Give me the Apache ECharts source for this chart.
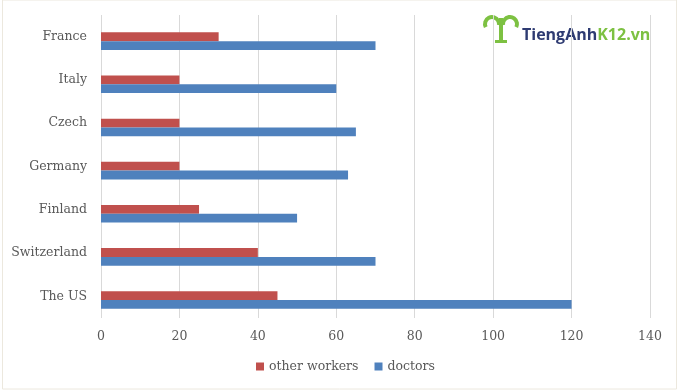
<!DOCTYPE html>
<html>
<head>
<meta charset="utf-8">
<script src="https://cdn.jsdelivr.net/npm/echarts@6/dist/echarts.min.js"></script>
<style>
html,body{margin:0;padding:0;background:#fff;}
#c{width:679px;height:391px;}
</style>
</head>
<body>
<div id="c"></div>
<script>
var categories = ['France', 'Italy', 'Czech', 'Germany', 'Finland', 'Switzerland', 'The US'];
var otherWorkers = [30, 20, 20, 20, 25, 40, 45];
var doctors = [70, 60, 65, 63, 50, 70, 120];
var xTicks = [0, 20, 40, 60, 80, 100, 120, 140];

var FONT = 'DejaVu Serif';
var TXT = '#595959';
var GREEN = '#7DC142';
var FS = 12.5;
var chart = echarts.init(document.getElementById('c'), null, {renderer: 'canvas'});
chart.setOption({
  animation: false,
  backgroundColor: '#fff',
  grid: [
    {left: 101, width: 549, top: 19.6, height: 302, containLabel: false},
    {left: 101, width: 549, top: 15, height: 303, containLabel: false}
  ],
  xAxis: [
    {gridIndex: 0, type: 'value', min: 0, max: 140, interval: 20, show: false},
    {gridIndex: 1, type: 'value', min: xTicks[0], max: xTicks[xTicks.length - 1], interval: 20,
      axisLine: {show: false}, axisTick: {show: false},
      splitLine: {show: true, lineStyle: {color: '#D9D9D9', width: 1}},
      axisLabel: {color: TXT, fontFamily: FONT, fontSize: FS, margin: 12}}
  ],
  yAxis: [
    {gridIndex: 0, type: 'category', data: categories, inverse: true, show: false},
    {gridIndex: 1, type: 'category', data: categories, inverse: true,
      axisLine: {show: false}, axisTick: {show: false}, splitLine: {show: false},
      axisLabel: {color: TXT, fontFamily: FONT, fontSize: FS, margin: 14}}
  ],
  legend: {
    top: 360, left: 256, itemWidth: 8, itemHeight: 8, itemGap: 16,
    icon: 'rect', padding: 0,
    textStyle: {color: TXT, fontFamily: FONT, fontSize: FS},
    data: ['other workers', 'doctors']
  },
  series: [
    {name: 'other workers', type: 'bar', xAxisIndex: 0, yAxisIndex: 0, data: otherWorkers,
      barWidth: 8.8, barGap: '0%', itemStyle: {color: '#C0504D'}},
    {name: 'doctors', type: 'bar', xAxisIndex: 0, yAxisIndex: 0, data: doctors,
      barWidth: 8.8, barGap: '0%', itemStyle: {color: '#4F81BD'}}
  ],
  graphic: [
    {type: 'rect', shape: {x: 2.5, y: 0, width: 674, height: 389}, style: {fill: 'none', stroke: '#ECE8DE', lineWidth: 1}, silent: true},
    {type: 'text', x: 522, y: 27, style: {
      text: '{a|TiengAnh}{b|K12.vn}',
      rich: {
        a: {fill: '#2E3B72', fontFamily: 'Open Sans', fontWeight: 'bold', fontSize: 16},
        b: {fill: GREEN, fontFamily: 'Open Sans', fontWeight: 'bold', fontSize: 16}
      }
    }},
    {type: 'arc', shape: {cx: 492, cy: 24, r: 7, startAngle: Math.PI * 0.85, endAngle: Math.PI * 2.05}, style: {stroke: GREEN, lineWidth: 4, fill: 'none'}},
    {type: 'arc', shape: {cx: 510, cy: 24, r: 7, startAngle: Math.PI * 0.95, endAngle: Math.PI * 2.15}, style: {stroke: GREEN, lineWidth: 4, fill: 'none'}},
    {type: 'rect', shape: {x: 499, y: 18, width: 4, height: 24}, style: {fill: GREEN}},
    {type: 'rect', shape: {x: 495, y: 40, width: 12, height: 3}, style: {fill: GREEN}}
  ]
});
</script>
</body>
</html>
